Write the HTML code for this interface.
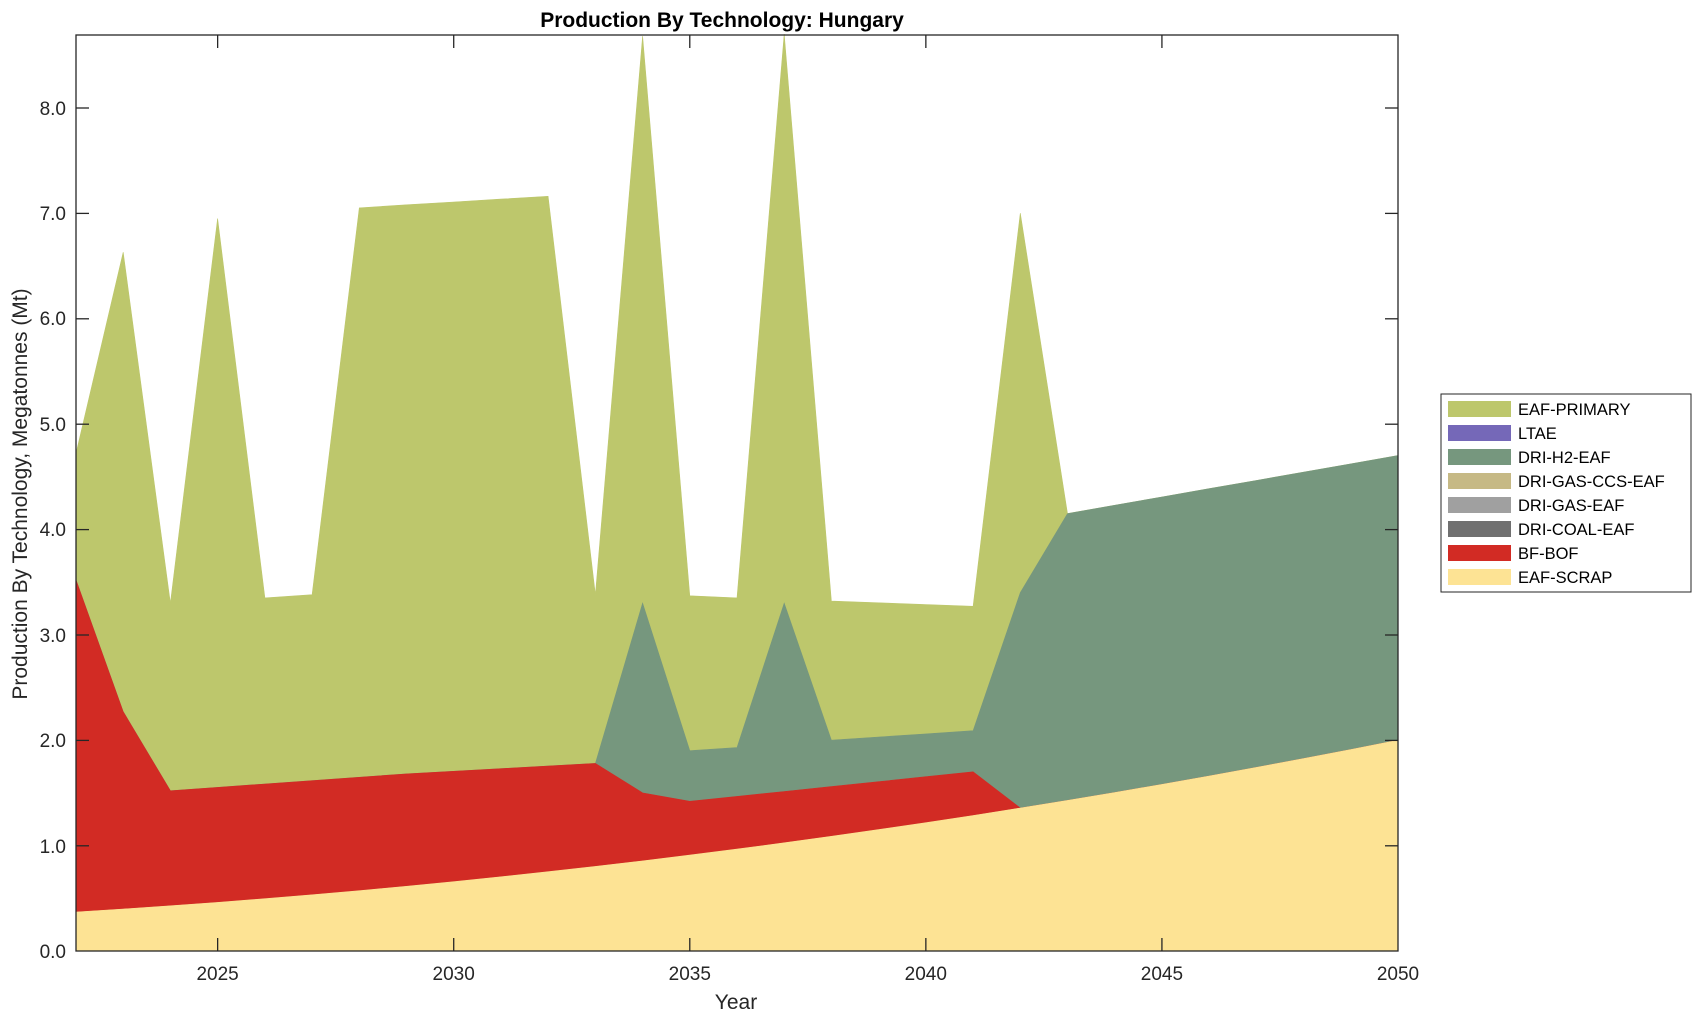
<!DOCTYPE html>
<html><head><meta charset="utf-8"><style>
body{margin:0;background:#fff}
svg{display:block;font-family:"Liberation Sans",sans-serif}
</style></head><body>
<svg id="s" width="1703" height="1020" viewBox="0 0 1703 1020">
<g id="areas"></g>
<rect x="76" y="35" width="1322" height="916" fill="none" stroke="#262626" stroke-width="1.3"/>
<g id="ticks" stroke="#262626" stroke-width="1.3"></g>
<g font-size="19" fill="#262626" text-anchor="end">
<text x="66" y="958">0.0</text><text x="66" y="853">1.0</text><text x="66" y="747">2.0</text><text x="66" y="642">3.0</text><text x="66" y="536">4.0</text><text x="66" y="431">5.0</text><text x="66" y="325">6.0</text><text x="66" y="220">7.0</text><text x="66" y="115">8.0</text>
</g>
<g font-size="19" fill="#262626" text-anchor="middle">
<text x="217.6" y="980">2025</text><text x="453.7" y="980">2030</text><text x="689.8" y="980">2035</text><text x="925.8" y="980">2040</text><text x="1161.9" y="980">2045</text><text x="1398" y="980">2050</text>
<text x="736" y="1009" font-size="21">Year</text>
<text x="722" y="27" font-size="21" font-weight="bold" fill="#000">Production By Technology: Hungary</text>
<text transform="translate(27,494) rotate(-90)" font-size="21">Production By Technology, Megatonnes (Mt)</text>
</g>
<rect x="1441" y="394" width="250" height="198" fill="#fff" stroke="#262626" stroke-width="1"/>
<g id="leg" font-size="16.5" fill="#000"></g>
</svg>
<script>
const X=y=>76+(y-2022)*47.214, Y=v=>951-v*105.4;
function interp(pts,yr){for(let i=0;i<pts.length-1;i++){const[a,va]=pts[i],[b,vb]=pts[i+1];if(yr>=a&&yr<=b)return va+(vb-va)*(yr-a)/(b-a);}return pts[pts.length-1][1];}
const yrs=[];for(let y=2022;y<=2050;y++)yrs.push(y);
const scrap=yrs.map(y=>{const t=y-2022;return .37+.02708*t+.001112*t*t;});
const bfP=[[2022,3.52],[2023,2.27],[2024,1.52],[2029,1.68],[2033,1.78],[2034,1.50],[2035,1.42],[2041,1.70]];
const bf=yrs.map((y,i)=>y<=2041?interp(bfP,y):scrap[i]);
const h2P=[[2034,3.30],[2035,1.90],[2036,1.93],[2037,3.30],[2038,2.00],[2041,2.09],[2042,3.40],[2043,4.15],[2050,4.70]];
const h2=yrs.map((y,i)=>y<=2033?bf[i]:interp(h2P,y));
const prP=[[2022,4.72],[2023,6.63],[2024,3.30],[2025,6.95],[2026,3.35],[2027,3.38],[2028,7.05],[2029,7.08],[2032,7.16],[2033,3.38],[2034,8.68],[2035,3.37],[2036,3.35],[2037,8.70],[2038,3.32],[2041,3.27],[2042,7.00],[2043,4.15]];
const pr=yrs.map((y,i)=>y<=2043?interp(prP,y):h2[i]);
function band(top,bot,col){let p=yrs.map((y,i)=>X(y).toFixed(1)+','+Y(top[i]).toFixed(1));for(let i=yrs.length-1;i>=0;i--)p.push(X(yrs[i]).toFixed(1)+','+Y(bot?bot[i]:0).toFixed(1));return `<polygon points="${p.join(' ')}" fill="${col}" stroke="${col}" stroke-width="0.6"/>`;}
document.getElementById('areas').innerHTML=band(pr,h2,'#bdc76c')+band(h2,bf,'#76977e')+band(bf,scrap,'#d22b24')+band(scrap,null,'#fde394');
let t='';[108,213.4,318.8,424.2,529.6,635,740.4,845.8].forEach(y=>{t+=`<line x1="76" x2="89" y1="${y}" y2="${y}"/><line x1="1385" x2="1398" y1="${y}" y2="${y}"/>`;});
[2025,2030,2035,2040,2045].forEach(y=>{const x=X(y);t+=`<line x1="${x}" x2="${x}" y1="951" y2="938"/><line x1="${x}" x2="${x}" y1="35" y2="48"/>`;});
document.getElementById('ticks').innerHTML=t;
const L=[['EAF-PRIMARY','#bdc76c'],['LTAE','#7568b8'],['DRI-H2-EAF','#76977e'],['DRI-GAS-CCS-EAF','#c6b985'],['DRI-GAS-EAF','#a0a0a0'],['DRI-COAL-EAF','#707070'],['BF-BOF','#d22b24'],['EAF-SCRAP','#fde394']];
let l='';L.forEach((e,i)=>{const y=409+i*24;l+=`<rect x="1448" y="${y-8}" width="63" height="16" fill="${e[1]}"/><text x="1518" y="${y+6}">${e[0]}</text>`;});
document.getElementById('leg').innerHTML=l;
</script>
</body></html>
